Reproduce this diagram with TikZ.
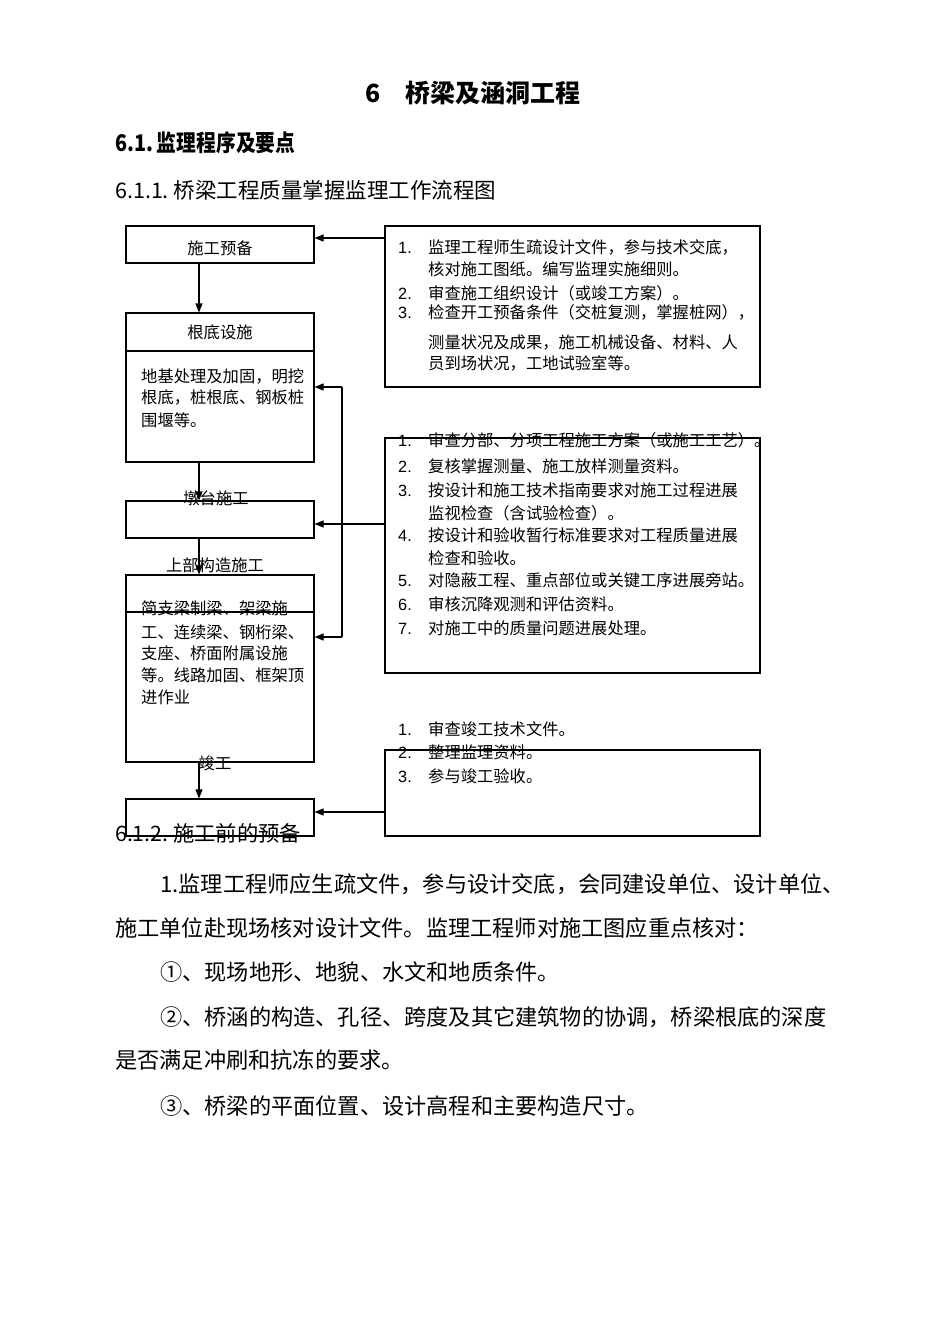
\documentclass[tikz,border=0pt]{standalone}
\usepackage{fontspec}
\setmainfont{Noto Sans CJK SC}
\newfontfamily\lat{Liberation Sans}
\newfontfamily\hdfont[FakeStretch=0.86]{Noto Sans CJK SC}
\usetikzlibrary{arrows.meta}
\begin{document}
\begin{tikzpicture}[x=1pt,y=-1pt,
  box/.style={draw, line width=1.1pt, inner sep=0pt},
  arr/.style={-{Triangle[length=9pt,width=7pt]}, line width=1.1pt},
  ft/.style={font=\fontsize{16.3}{20}\selectfont},
  txt/.style={anchor=west, inner sep=0pt, ft},
  ctr/.style={inner sep=0pt, ft},
  body/.style={anchor=west, inner sep=0pt, font=\fontsize{22.2}{26}\selectfont},
]
\useasboundingbox[fill=white] (0,0) rectangle (950,1344);

% headings
\node[anchor=west, inner sep=0pt, font=\fontsize{25}{30}\selectfont\bfseries] (t6) at (365,93) {6};
\node[anchor=west, inner sep=0pt, font=\fontsize{25}{30}\selectfont\bfseries] (t) at (405,93) {桥梁及涵洞工程};
\node[anchor=west, inner sep=0pt, font=\hdfont\fontsize{23}{28}\selectfont\bfseries] (h1) at (115,143) {6.1.\,监理程序及要点};
\node[anchor=west, inner sep=0pt, font=\fontsize{21.5}{26}\selectfont] (h2) at (115,190) {6.1.1.\ 桥梁工程质量掌握监理工作流程图};

% left boxes
\node[box, minimum width=188pt, minimum height=37pt] (A) at (220,244.5) {};
\node[box, minimum width=188pt, minimum height=149pt] (B) at (220,387.5) {};
\node[box, minimum width=188pt, minimum height=37pt] (C) at (220,519.5) {};
\node[box, minimum width=188pt, minimum height=187pt] (D) at (220,668.5) {};
\node[box, minimum width=188pt, minimum height=37pt] (E) at (220,817.5) {};
\draw[line width=1.1pt] (B.west |- 0,351) -- (B.east |- 0,351);
\draw[line width=1.1pt] (D.west |- 0,612) -- (D.east |- 0,612);

% right boxes
\node[box, minimum width=375pt, minimum height=161pt] (R1) at (572.5,306.5) {};
\node[box, minimum width=375pt, minimum height=235pt] (R2) at (572.5,555.5) {};
\node[box, minimum width=375pt, minimum height=86pt] (R3) at (572.5,793) {};

% left labels
\node[ctr] (la) at (220,248) {施工预备};
\node[ctr] (lb) at (220,332) {根底设施};
\node[ctr] (lc) at (216,498) {墩台施工};
\node[ctr] (ld) at (215,565) {上部构造施工};
\node[ctr] (le) at (215,763) {竣工};
\foreach \yy/\tx [count=\i] in {376/地基处理及加固，明挖, 397/根底，桩根底、钢板桩, 420/围堰等。}
  \node[txt] (bt\i) at (141,\yy) {\tx};
\foreach \yy/\tx [count=\i] in {608/简支梁制梁、架梁施, 632/工、连续梁、钢桁梁、, 653/支座、桥面附属设施, 675/等。线路加固、框架顶, 697/进作业}
  \node[txt] (dt\i) at (141,\yy) {\tx};

% right texts
\foreach \yy/\nb/\tx [count=\i] in {
  247/1./监理工程师生疏设计文件，参与技术交底，,
  269//核对施工图纸。编写监理实施细则。,
  293/2./审查施工组织设计（或竣工方案）。,
  312/3./检查开工预备条件（交桩复测，掌握桩网），,
  342//测量状况及成果，施工机械设备、材料、人,
  363//员到场状况，工地试验室等。}
  \node[txt] (ra\i) at (398,\yy) {\makebox[30pt][l]{\lat\nb}\tx};
\foreach \yy/\nb/\tx [count=\i] in {
  440/1./审查分部、分项工程施工方案（或施工工艺）。,
  466/2./复核掌握测量、施工放样测量资料。,
  490/3./按设计和施工技术指南要求对施工过程进展,
  513//监视检查（含试验检查）。,
  535/4./按设计和验收暂行标准要求对工程质量进展,
  558//检查和验收。,
  580/5./对隐蔽工程、重点部位或关键工序进展旁站。,
  604/6./审核沉降观测和评估资料。,
  628/7./对施工中的质量问题进展处理。}
  \node[txt] (rb\i) at (398,\yy) {\makebox[30pt][l]{\lat\nb}\tx};
\foreach \yy/\nb/\tx [count=\i] in {
  729/1./审查竣工技术文件。,
  752/2./整理监理资料。,
  776/3./参与竣工验收。}
  \node[txt] (rc\i) at (398,\yy) {\makebox[30pt][l]{\lat\nb}\tx};

% connectors
\coordinate (cx) at (199,0);
\coordinate (ya) at (0,238);
\coordinate (yc) at (0,524);
\coordinate (ye) at (0,812);
\coordinate (j1) at (342,387);
\coordinate (j2) at (342,637);
\draw[arr] (A.south -| cx) -- (B.north -| cx);
\draw[arr] (B.south -| cx) -- (C.north -| cx);
\draw[arr] (C.south -| cx) -- (D.north -| cx);
\draw[arr] (D.south -| cx) -- (E.north -| cx);
\draw[arr] (R1.west |- ya) -- (A.east |- ya);
\draw[arr] (R2.west |- yc) -- (C.east |- yc);
\draw[arr] (R3.west |- ye) -- (E.east |- ye);
\draw[line width=1.1pt] (j1) -- (j2);
\draw[arr] (j1) -- (B.east |- j1);
\draw[arr] (j2) -- (D.east |- j2);

% body text
\node[body, font=\fontsize{21.3}{26}\selectfont] (s2) at (115,833) {6.1.2.\ 施工前的预备};
\node[body] (p1) at (160,884) {1.监理工程师应生疏文件，参与设计交底，会同建设单位、设计单位、};
\node[body] (p2) at (115,928) {施工单位赴现场核对设计文件。监理工程师对施工图应重点核对：};
\node[body] (p3) at (160,972) {①、现场地形、地貌、水文和地质条件。};
\node[body] (p4) at (160,1017) {②、桥涵的构造、孔径、跨度及其它建筑物的协调，桥梁根底的深度};
\node[body] (p5) at (115,1060) {是否满足冲刷和抗冻的要求。};
\node[body] (p6) at (160,1106) {③、桥梁的平面位置、设计高程和主要构造尺寸。};
\end{tikzpicture}
\end{document}
